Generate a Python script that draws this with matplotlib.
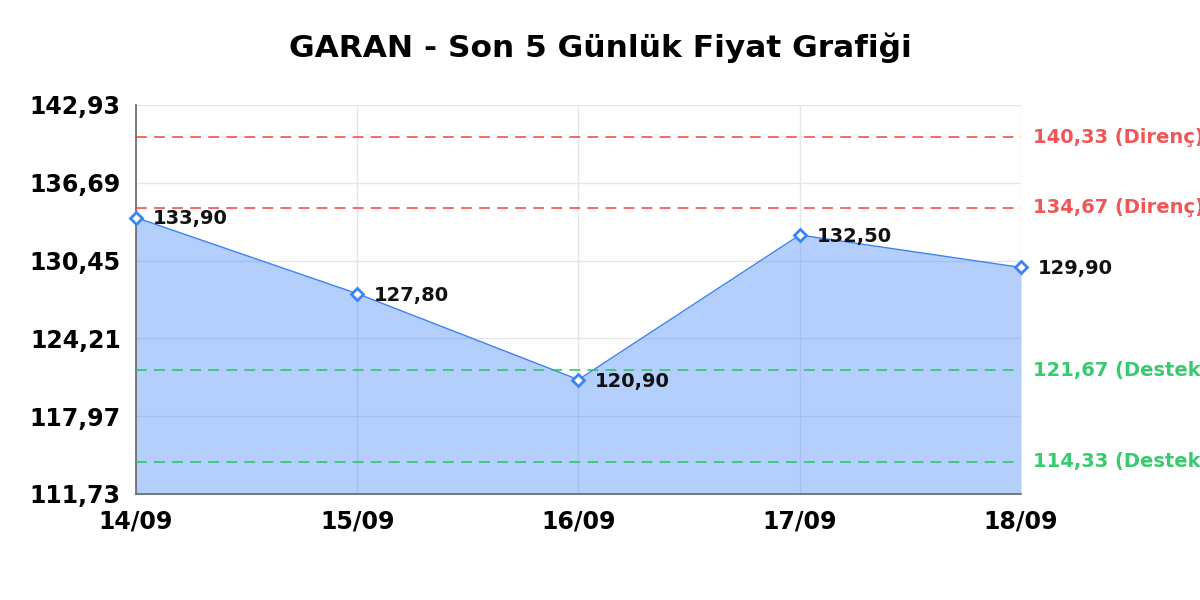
"""GARAN 5-day price chart with support/resistance levels."""

import matplotlib

matplotlib.use("Agg")
import matplotlib.pyplot as plt
import numpy as np

dates = ["14/09", "15/09", "16/09", "17/09", "18/09"]
prices = [133.90, 127.80, 120.90, 132.50, 129.90]
resistance = [140.33, 134.67]
support = [121.67, 114.33]
y_min, y_max = 111.73, 142.93
y_ticks = [111.73, 117.97, 124.21, 130.45, 136.69, 142.93]

BLUE = "#3b82f6"
RED = "#ef4444"
GREEN = "#22c55e"


def fmt(v):
    return f"{v:.2f}".replace(".", ",")


def main():
    plt.rcParams["font.family"] = ["DejaVu Sans"]
    fig = plt.figure(figsize=(12, 6), dpi=100)
    ax = fig.add_axes([0.1133, 0.1767, 0.7375, 0.6483])
    x = np.arange(len(dates))

    ax.set_xlim(x[0], x[-1])
    ax.set_ylim(y_min, y_max)
    ax.set_xticks(x)
    ax.set_xticklabels(dates)
    ax.set_yticks(y_ticks)
    ax.set_yticklabels([fmt(v) for v in y_ticks])
    ax.tick_params(length=0, labelsize=17)
    ax.tick_params(axis="y", pad=11)
    ax.tick_params(axis="x", pad=11)
    for lbl in ax.get_xticklabels() + ax.get_yticklabels():
        lbl.set_fontweight("bold")
    ax.grid(True, color="#e6e6e6", linewidth=1.0, zorder=0)
    ax.set_axisbelow(True)
    for side in ("top", "right"):
        ax.spines[side].set_visible(False)
    for side in ("left", "bottom"):
        ax.spines[side].set_color("#666666")
        ax.spines[side].set_linewidth(1.2)

    ax.fill_between(x, prices, y_min, color=BLUE, alpha=0.38, linewidth=0, zorder=2)
    ax.plot(x, prices, color=BLUE, linewidth=1.0, zorder=3)
    ax.plot(x, prices, linestyle="none", marker="D", markersize=6.5,
            markerfacecolor="white", markeredgecolor=BLUE, markeredgewidth=2,
            zorder=5, clip_on=False)

    for xi, p in zip(x, prices):
        ax.annotate(fmt(p), (xi, p), xytext=(12, -1), textcoords="offset points",
                    ha="left", va="center", fontsize=14, fontweight="bold",
                    color="#111111", zorder=6, annotation_clip=False)

    # level labels run past the right edge, as in the original
    for level, color, name in [(v, RED, "Direnç") for v in resistance] + \
            [(v, GREEN, "Destek") for v in support]:
        ax.axhline(level, color=color, linestyle=(0, (6, 4)), linewidth=1.3,
                   alpha=0.85, zorder=4)
        ax.annotate(f"{fmt(level)} ({name})", (1, level), xycoords=("axes fraction", "data"),
                    xytext=(9, 0), textcoords="offset points", ha="left", va="center",
                    fontsize=14, fontweight="bold", color=color, alpha=0.9,
                    annotation_clip=False)

    fig.suptitle("GARAN - Son 5 Günlük Fiyat Grafiği", fontsize=22.5, fontweight="bold",
                 y=0.92, va="center", x=0.5)
    fig.savefig("out.png", dpi=100, facecolor="white")
    plt.close(fig)


if __name__ == "__main__":
    main()
